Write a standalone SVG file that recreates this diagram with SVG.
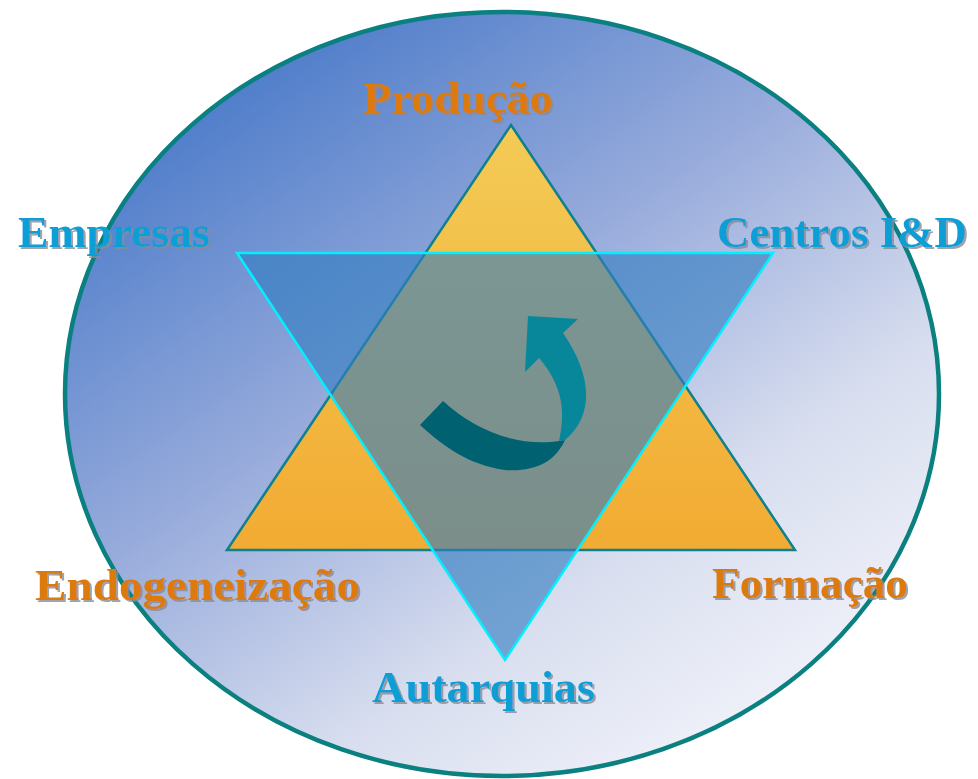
<svg xmlns="http://www.w3.org/2000/svg" width="978" height="779" viewBox="0 0 978 779">
  <defs>
    <linearGradient id="bg" x1="0.15" y1="0.05" x2="0.85" y2="0.95">
      <stop offset="0" stop-color="#4577c8"/>
      <stop offset="0.42" stop-color="#9aaddc"/>
      <stop offset="0.72" stop-color="#d8deef"/>
      <stop offset="1" stop-color="#f4f5fb"/>
    </linearGradient>
    <linearGradient id="og" x1="0" y1="0" x2="0" y2="1">
      <stop offset="0" stop-color="#f3cb56"/>
      <stop offset="1" stop-color="#f2ab33"/>
    </linearGradient>
    <filter id="shadow" x="-5%" y="-20%" width="110%" height="140%">
      <feDropShadow dx="2" dy="2" stdDeviation="0.6" flood-color="#8a8a94" flood-opacity="0.8"/>
    </filter>
    <style>
      .lbl { font-family: "Liberation Serif", "Times New Roman", serif; font-weight: bold; font-size: 44px; filter: url(#shadow); }
      .or { fill: #dc7a0e; }
      .bl { fill: #0c9ed6; }
    </style>
  </defs>
  <rect width="978" height="779" fill="#ffffff"/>
  <g id="circle">
    <ellipse cx="502" cy="394" rx="437" ry="382" fill="url(#bg)" stroke="#0a8080" stroke-width="4.5"/>
  </g>
  <g id="triangle-up">
    <polygon points="511,125 795,550 227,550" fill="url(#og)" stroke="#0e8090" stroke-width="2.5"/>
  </g>
  <g id="triangle-down">
    <polygon points="237,253 773,253 505,660" fill="#327cc0" fill-opacity="0.62" stroke="#00f0ff" stroke-width="2.5"/>
  </g>
  <g id="connectors">
    <g id="cycle-arrow">
      <path d="M443,401 C480,435 525,448 565,440 C555,462 535,472 505,470 C470,465 445,448 420,425 Z" fill="#006270"/>
      <path d="M528,316 L578,319 L563,333 C592,375 595,415 565,440 L559,441 C566,410 562,385 539,358 L525,372 Z" fill="#08879a"/>
    </g>
  </g>
  <g id="label-producao">
    <text class="lbl or" x="363" y="113" textLength="190" lengthAdjust="spacingAndGlyphs">Produção</text>
  </g>
  <g id="label-empresas">
    <text class="lbl bl" x="18" y="247" textLength="192" lengthAdjust="spacingAndGlyphs">Empresas</text>
  </g>
  <g id="label-centros">
    <text class="lbl bl" x="717" y="247" textLength="250" lengthAdjust="spacingAndGlyphs">Centros I&amp;D</text>
  </g>
  <g id="label-endogeneizacao">
    <text class="lbl or" x="35" y="600" textLength="325" lengthAdjust="spacingAndGlyphs">Endogeneização</text>
  </g>
  <g id="label-formacao">
    <text class="lbl or" x="712" y="598" textLength="196" lengthAdjust="spacingAndGlyphs">Formação</text>
  </g>
  <g id="label-autarquias">
    <text class="lbl bl" x="372" y="702" textLength="223" lengthAdjust="spacingAndGlyphs">Autarquias</text>
  </g>
</svg>
